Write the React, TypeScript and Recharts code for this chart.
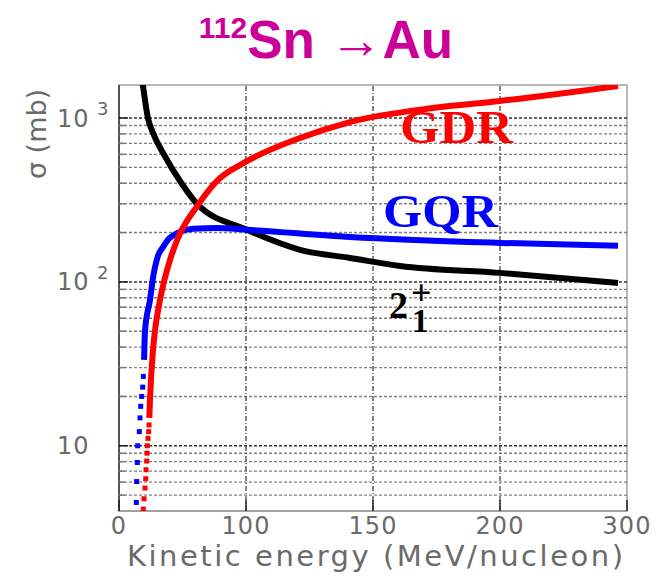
import React from "react";
import {
  ComposedChart,
  Line,
  Scatter,
  XAxis,
  YAxis,
  ReferenceLine,
  ReferenceArea,
} from "recharts";

// ---- axes ----
const X_TICKS = [0, 75, 150, 225, 300];
const X_TICK_LABELS = ["0", "100", "150", "200", "300"];
const X_GRID = [75, 150, 225];
const Y_MIN = 4;
const Y_MAX = 1590;
const Y_DECADES = [10, 100, 1000];
const Y_DECADE_EXP = ["", "2", "3"];
const Y_MINOR = [5, 6, 7, 8, 9, 20, 30, 40, 50, 60, 70, 80, 90, 200, 300, 400, 500, 600, 700, 800, 900];

// ---- GDR (red) ----
const GDR_DOT_X = [14.35, 14.77, 15.36, 15.77, 15.95, 16.36, 16.54, 16.71, 17.13, 17.54, 17.72];
const GDR_DOT_Y = [4.11, 4.75, 5.52, 6.29, 7.14, 8.07, 9.02, 10.0, 11.1, 12.2, 13.4];
const GDR_X = [17.9, 18.3, 20.1, 21.3, 24.2, 30.1, 34.3, 46.7, 58.5, 71.5, 106.9, 136.4, 185.4, 225, 294.7];
const GDR_Y = [14.8, 19.1, 38.5, 50.9, 77.6, 136, 180, 295, 419, 517, 755, 945, 1151, 1270, 1567];

// ---- GQR (blue) ----
const GQR_DOT_X = [10.22, 10.45, 10.81, 11.04, 11.99, 12.4, 12.82, 13.41, 14.0, 14.35];
const GQR_DOT_Y = [4.51, 6.05, 7.91, 10.0, 12.2, 14.8, 17.4, 20.0, 22.8, 26.5];
const GQR_X = [14.8, 15.4, 18.3, 20.1, 23.0, 26.0, 30.1, 43.7, 57.9, 75.6, 136.4, 225, 294.7];
const GQR_Y = [33.4, 50.9, 77.6, 106, 144, 163, 186, 211, 213, 208, 188, 173, 166];

// ---- 2+1 (black) ----
const E21_X = [14.0, 17.1, 20.1, 26.0, 37.2, 46.7, 75.6, 106.9, 136.4, 166.0, 225.0, 294.7];
const E21_Y = [1620, 1000, 810, 612, 396, 295, 208, 157, 140, 125, 113.5, 98.6];

const zip = (xs: number[], ys: number[]) => xs.map((x, i) => ({ x, y: ys[i] }));

const gdrDots = zip(GDR_DOT_X, GDR_DOT_Y);
const gdrLine = zip(GDR_X, GDR_Y);
const gqrDots = zip(GQR_DOT_X, GQR_DOT_Y);
const gqrLine = zip(GQR_X, GQR_Y);
const e21Line = zip(E21_X, E21_Y);

const TICK_FONT = "'DejaVu Sans', sans-serif";
const TICK_COLOR = "#6a6a6a";
const SERIF = "'Liberation Serif', 'Times New Roman', serif";

const YTick = (props: any) => {
  const { x, y, payload } = props;
  const v = payload.value;
  const di = Y_DECADES.indexOf(v);
  const major = di >= 0;
  return (
    <g>
      <line x1={x} x2={x + (major ? 9 : 6)} y1={y} y2={y} stroke={major ? "#222" : "#777"} strokeWidth={1.5} />
      {major && (
        <text x={x - 62} y={y + 8.5} fontFamily={TICK_FONT} fontSize={24} letterSpacing={1} fill={TICK_COLOR}>
          10
        </text>
      )}
      {major && Y_DECADE_EXP[di] && (
        <text x={x - 22} y={y - 3} fontFamily={TICK_FONT} fontSize={18} fill={TICK_COLOR}>
          {Y_DECADE_EXP[di]}
        </text>
      )}
    </g>
  );
};

const XTick = (props: any) => {
  const { x, y, payload, index } = props;
  const i = X_TICKS.indexOf(payload.value);
  return (
    <g>
      <line x1={x} x2={x} y1={y} y2={y - 11} stroke="#222" strokeWidth={1.5} />
      <text x={x} y={y + 23} textAnchor="middle" fontFamily={TICK_FONT} fontSize={24} letterSpacing={1} fill={TICK_COLOR}>
        {X_TICK_LABELS[i >= 0 ? i : index]}
      </text>
    </g>
  );
};

const Square = (color: string) => (props: any) => {
  const { cx, cy } = props;
  if (cx == null || cy == null) return null;
  return <rect x={cx - 2.5} y={cy - 2.5} width={5} height={5} fill={color} />;
};

export default function App() {
  return (
    <div style={{ position: "absolute", left: 0, top: 0, width: 660, height: 580, background: "#fff" }}>
      <ComposedChart
        width={660}
        height={580}
        margin={{ top: 85, right: 33, bottom: 29, left: 59 }}
      >
        <XAxis
          type="number"
          dataKey="x"
          domain={[0, 300]}
          allowDataOverflow
          ticks={X_TICKS}
          interval={0}
          tickSize={0}
          tickMargin={0}
          tickLine={false}
          tick={<XTick />}
          axisLine={{ stroke: "#9a9a9a", strokeWidth: 1.5 }}
          height={40}
        />
        <YAxis
          type="number"
          dataKey="y"
          scale="log"
          domain={[Y_MIN, Y_MAX]}
          allowDataOverflow
          ticks={[...Y_MINOR, ...Y_DECADES].sort((a, b) => a - b)}
          interval={0}
          tickSize={0}
          tickMargin={0}
          tickLine={false}
          tick={<YTick />}
          axisLine={{ stroke: "#333", strokeWidth: 1.5 }}
          width={60}
        />
        <ReferenceArea x1={0} x2={300} y1={Y_MIN} y2={Y_MAX} fill="none" stroke="#a0a0a0" strokeWidth={1.5} />
        {Y_MINOR.map((v) => (
          <ReferenceLine key={"m" + v} y={v} stroke="#808080" strokeDasharray="3 2" strokeWidth={1.4} />
        ))}
        {Y_DECADES.map((v) => (
          <ReferenceLine key={"d" + v} y={v} stroke="#333" strokeDasharray="3 2" strokeWidth={1.5} />
        ))}
        {X_GRID.map((v) => (
          <ReferenceLine key={"x" + v} x={v} stroke="#333" strokeDasharray="5 2 1 2" strokeWidth={1.2} />
        ))}
        <Line data={e21Line} dataKey="y" type="monotone" stroke="#000" strokeWidth={6} dot={false} isAnimationActive={false} />
        <Line data={gqrLine} dataKey="y" type="monotone" stroke="#0000ff" strokeWidth={6} dot={false} isAnimationActive={false} />
        <Scatter data={gqrDots} fill="#0000ff" shape={Square("#0000ff")} isAnimationActive={false} />
        <Line data={gdrLine} dataKey="y" type="monotone" stroke="#ff0000" strokeWidth={6} dot={false} isAnimationActive={false} />
        <Scatter data={gdrDots} fill="#ff0000" shape={Square("#ff0000")} isAnimationActive={false} />
      </ComposedChart>
      <svg width={660} height={580} style={{ position: "absolute", left: 0, top: 0, pointerEvents: "none" }}>
        <text x={326} y={58} textAnchor="middle" fontFamily="'Liberation Sans', Arial, sans-serif" fontWeight="bold" fontSize={53} fill="#cc0099">
          <tspan fontSize={30} dy={-20}>112</tspan>
          <tspan dy={20}>Sn </tspan>
          <tspan fontWeight="normal">→</tspan>
          <tspan>Au</tspan>
        </text>
        <text transform="translate(46,134) rotate(-90)" x={0} y={0} textAnchor="middle" fontFamily={TICK_FONT} fontSize={27} fill={TICK_COLOR}>
          σ (mb)
        </text>
        <text x={375} y={566} textAnchor="middle" fontFamily={TICK_FONT} fontSize={29} textLength={496} lengthAdjust="spacing" fill={TICK_COLOR}>
          Kinetic energy (MeV/nucleon)
        </text>
        <text x={400} y={143} fontFamily={SERIF} fontWeight="bold" fontSize={46} fill="#ff0000" textLength={113} lengthAdjust="spacingAndGlyphs">
          GDR
        </text>
        <text x={383} y={227} fontFamily={SERIF} fontWeight="bold" fontSize={47} fill="#0000ff" textLength={115} lengthAdjust="spacingAndGlyphs">
          GQR
        </text>
        <text x={389} y={318} fontFamily={SERIF} fontWeight="bold" fontSize={38} fill="#000">
          2
        </text>
        <text x={411} y={305} fontFamily={SERIF} fontWeight="bold" fontSize={36} fill="#000">
          +
        </text>
        <text x={412} y={332} fontFamily={SERIF} fontWeight="bold" fontSize={33} fill="#000">
          1
        </text>
      </svg>
    </div>
  );
}
